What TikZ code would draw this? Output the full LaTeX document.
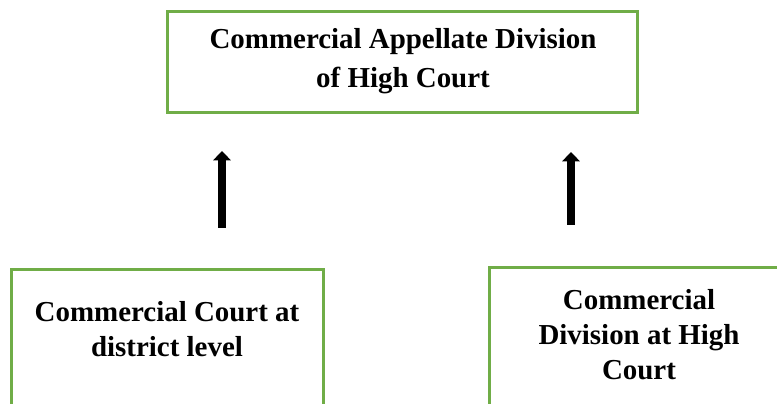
\documentclass[tikz,border=0pt]{standalone}
\usepackage{fontspec}
\setmainfont{Liberation Serif}
\usetikzlibrary{arrows.meta}
\definecolor{boxgreen}{HTML}{70AD47}
\begin{document}
\begin{tikzpicture}[x=.75pt,y=.75pt,line join=miter,font=\bfseries\fontsize{21.7}{26.25}\selectfont]
  \tikzset{court/.style={draw=boxgreen,line width=2.25pt,inner sep=0pt},
    courttext/.style={align=center,inner sep=0pt},
    uparrow/.style={line width=6pt,-{Triangle[width=13pt,length=7pt]}}}
  \useasboundingbox (0,0) rectangle (777,403);
  \clip (0,0) rectangle (777,403);
  % boxes
  \node[court,minimum width=352.5pt,minimum height=75.75pt] (appeal) at (402,340.5) {};
  \node[court,minimum width=234pt,minimum height=114.75pt] (district) at (167,56.5) {};
  \node[court,minimum width=225.75pt,minimum height=116.25pt] (highdiv) at (639.5,57.5) {};
  % texts
  \node[courttext,font=\bfseries\fontsize{21.7}{29}\selectfont] (appealtxt) at (403,342)
    {Commercial Appellate Division\\of High Court};
  \node[courttext] (districttxt) at (167,74) {Commercial Court at\\district level};
  \node[courttext] (highdivtxt) at (639,68) {Commercial\\Division at High\\Court};
  % arrows
  \coordinate (l0) at (222,175);
  \coordinate (l1) at (222,252);
  \coordinate (r0) at (571,178);
  \coordinate (r1) at (571,251);
  \draw[uparrow] (l0)--(l1);
  \draw[uparrow] (r0)--(r1);
\end{tikzpicture}
\end{document}
